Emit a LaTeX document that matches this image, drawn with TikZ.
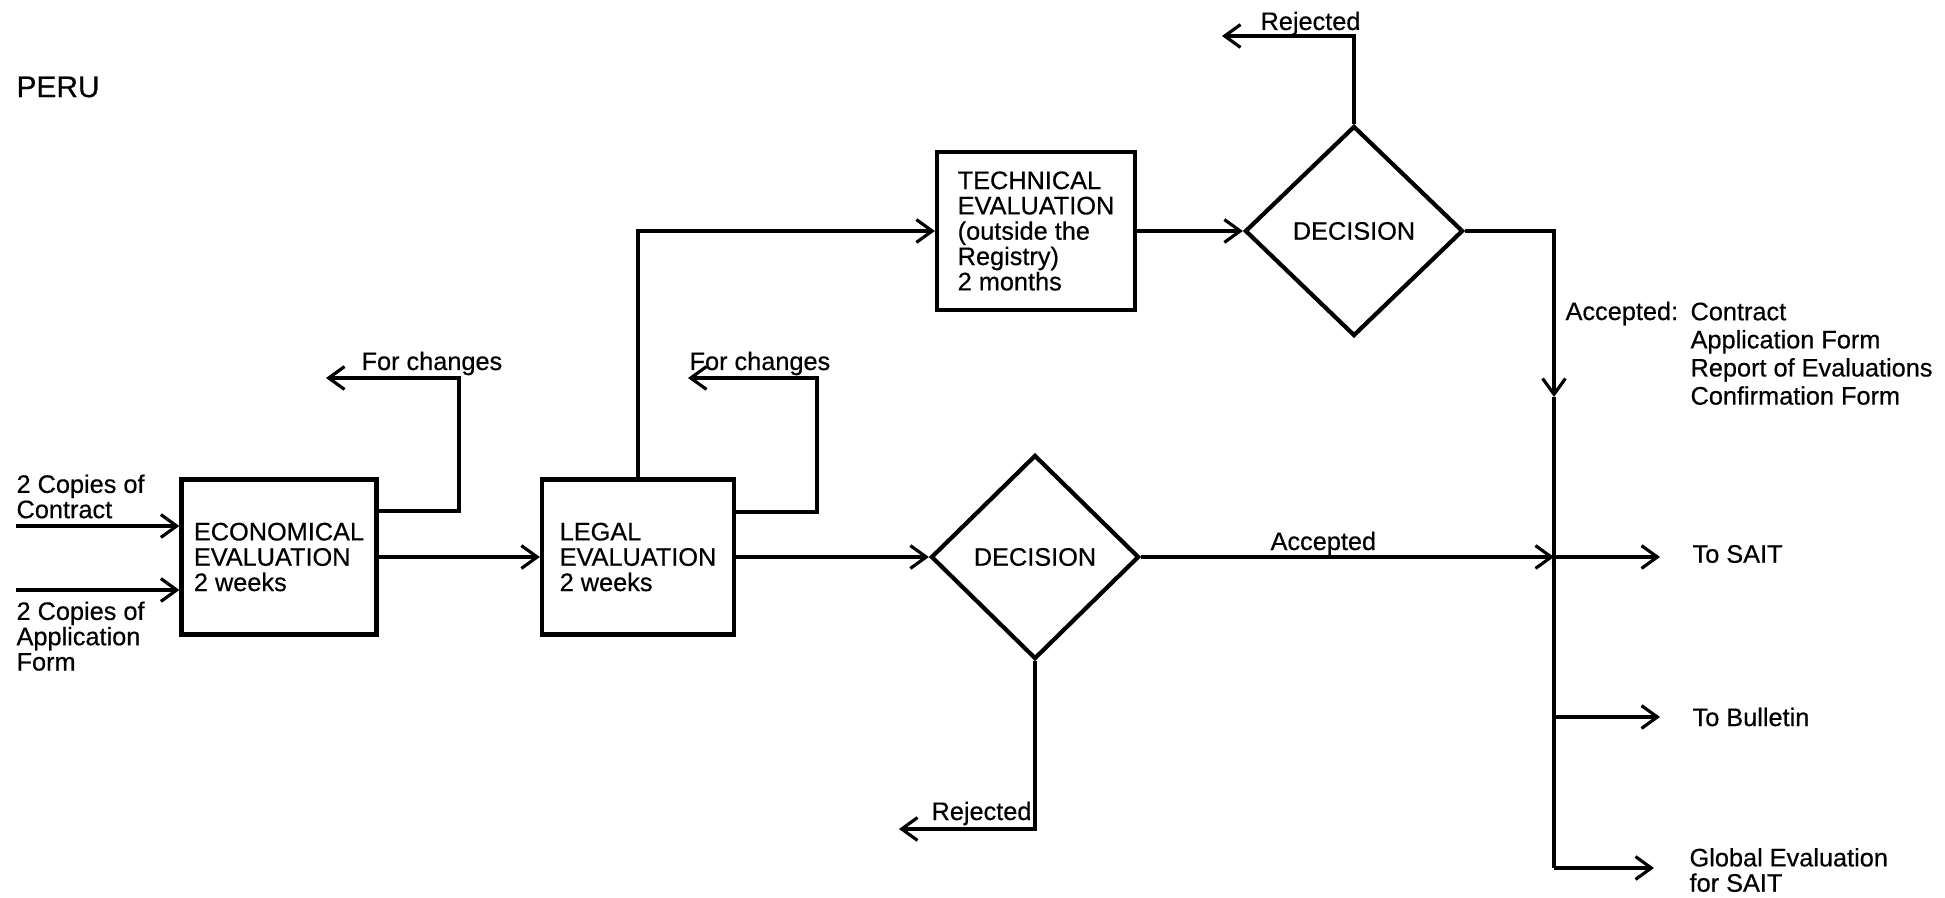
\documentclass[tikz,border=0pt]{standalone}
\usepackage{fontspec}
\setmainfont{Liberation Sans}[FakeBold=0.5]
\usetikzlibrary{shapes.geometric,arrows.meta,positioning}

\begin{document}
\begin{tikzpicture}[
  >={Straight Barb[length=4.5pt,width=6.5pt]},
  line width=0.9pt,
  font=\fontsize{7.2}{7.2}\selectfont,
  box/.style={draw, rectangle, line width=1.2pt, align=left, inner sep=0pt},
  decide/.style={draw, diamond, line width=1.2pt, inner sep=0pt},
  lbl/.style={inner sep=0pt, align=left}
]
\useasboundingbox (0,0) rectangle (19.45,8.97);

% figure title
\node[lbl, anchor=west, font=\fontsize{8.5}{9}\selectfont] at (0.15, 8.10) (title) {PERU};

% evaluation boxes
\node[box, minimum width=1.95cm, minimum height=1.55cm] at (2.79, 3.40) (econ) {ECONOMICAL\\EVALUATION\\2 weeks};
\node[box, minimum width=1.92cm, minimum height=1.55cm] at (6.38, 3.40) (legal) {LEGAL\\EVALUATION\\2 weeks};
\node[box, minimum width=1.98cm, minimum height=1.58cm] at (10.36, 6.66) (tech) {TECHNICAL\\EVALUATION\\(outside the\\Registry)\\2 months};

% decisions
\node[decide, minimum width=2.18cm, minimum height=2.10cm] at (13.54, 6.66) (dec1) {DECISION};
\node[decide, minimum width=2.08cm, minimum height=2.04cm] at (10.35, 3.40) (dec2) {DECISION};

% incoming copies
\coordinate (ctin) at (0.16, 3.71);
\coordinate (apin) at (0.16, 3.07);
\node[lbl, anchor=south west] at (0.15, 3.77) (ctlbl) {2 Copies of\\Contract};
\node[lbl, anchor=north west] at (0.15, 2.97) (aplbl) {2 Copies of\\Application\\Form};
\draw[->] (ctin) -- (ctin -| econ.west);
\draw[->] (apin) -- (apin -| econ.west);

% for changes
\coordinate (ecup) at (4.59, 5.19);
\coordinate (ecret) at (3.26, 5.19);
\draw[->] ([yshift=4.6mm]econ.east) -| (ecup) -- (ecret);
\node[lbl, anchor=base west] at (3.60, 5.27) (eclbl) {For changes};

\coordinate (lgup) at (8.17, 5.19);
\coordinate (lgret) at (6.88, 5.19);
\draw[->] ([yshift=4.5mm]legal.east) -| (lgup) -- (lgret);
\node[lbl, anchor=base west] at (6.88, 5.27) (lglbl) {For changes};

% main flow
\draw[->] (econ.east) -- (legal.west);
\draw[->] (legal.east) -- (dec2.west);
\draw[->] (legal.north) |- (tech.west);
\draw[->] (tech.east) -- (dec1.west);

% rejected
\coordinate (rej1) at (12.22, 8.61);
\draw[->] (dec1.north) |- (rej1);
\node[lbl, anchor=base west] at (12.59, 8.67) (rej1lbl) {Rejected};

\coordinate (rej2) at (8.99, 0.68);
\draw[->] (dec2.south) |- (rej2);
\node[lbl, anchor=base west] at (9.30, 0.77) (rej2lbl) {Rejected};

% accepted
\coordinate (junc) at (15.54, 3.40);
\coordinate (jarr) at (15.54, 5.00);
\coordinate (jbul) at (15.54, 1.80);
\coordinate (jbot) at (15.54, 0.29);
\draw[->] (dec2.east) -- (junc);
\node[lbl, anchor=base west] at (12.69, 3.47) (acclbl) {Accepted};
\draw[->] (dec1.east) -| (jarr);
\draw (jarr) -- (jbot);
\node[lbl, anchor=base west] at (15.64, 5.77) (acc1lbl) {Accepted:};
\node[lbl, anchor=north west, font=\fontsize{7.2}{8}\selectfont] at (16.89, 5.96) (doclist) {Contract\\Application Form\\Report of Evaluations\\Confirmation Form};

% destinations
\node[lbl, anchor=west] at (16.91, 3.43) (tosait) {To SAIT};
\node[lbl, anchor=west] at (16.91, 1.80) (tobul) {To Bulletin};
\node[lbl, anchor=west] at (16.88, 0.27) (toglob) {Global Evaluation\\for SAIT};
\draw[->, shorten >=3.1mm] (junc) -- (tosait.west |- junc);
\draw[->, shorten >=3.1mm] (jbul) -- (tobul.west |- jbul);
\draw[->, shorten >=3.4mm] (jbot) -- (toglob.west |- jbot);

\end{tikzpicture}
\end{document}
